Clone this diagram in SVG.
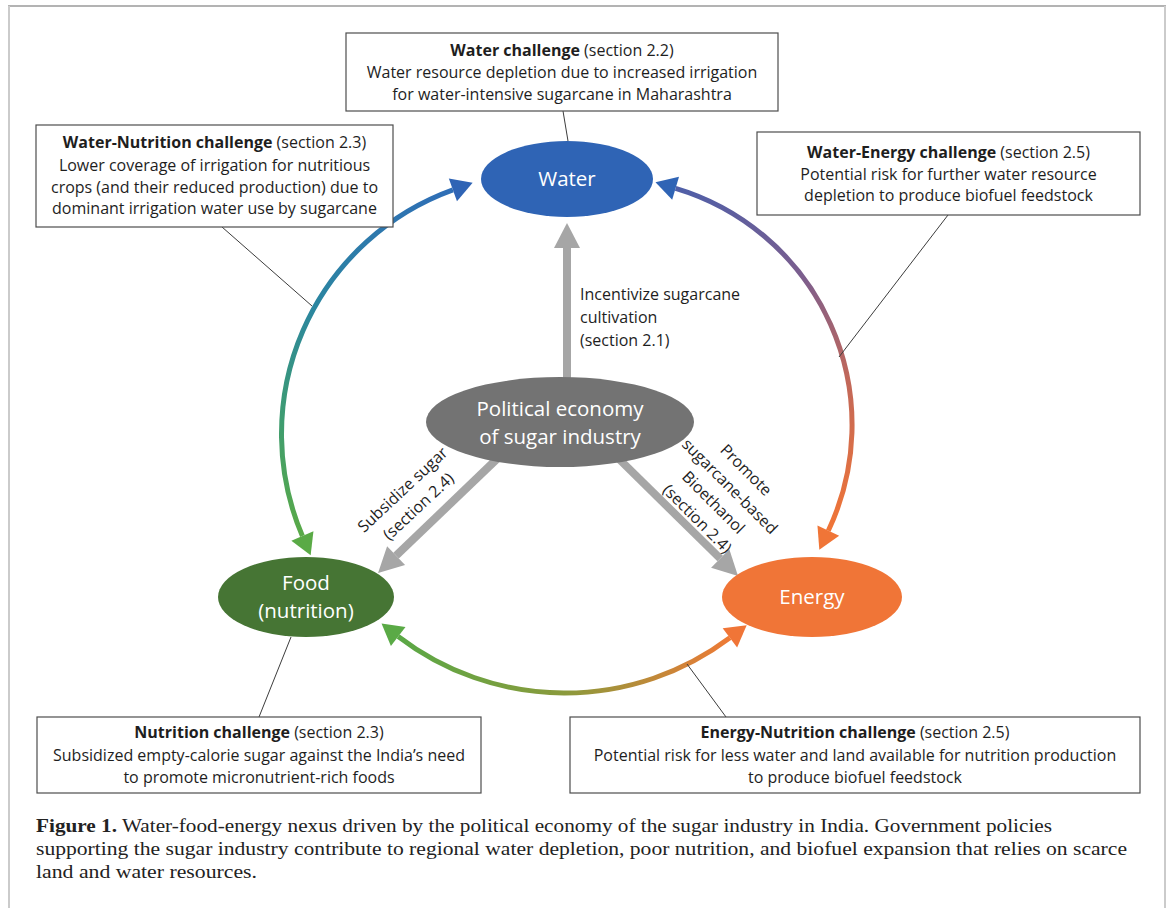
<svg xmlns="http://www.w3.org/2000/svg" width="1168" height="908" viewBox="0 0 1168 908">
  <defs>
    <style>
      .frame-top { stroke: #9a9a9a; stroke-width: 1.5; }
      .frame-side { stroke: #cbcbcb; stroke-width: 2; }
      .box rect { fill: #ffffff; stroke: #4d4d4d; stroke-width: 1.2; }
      .bt { font-family: "Open Sans", Lato, sans-serif; font-size: 16px; fill: #1e1e1e; text-anchor: middle; }
      .b { font-weight: bold; }
      .nl { font-family: "Open Sans", Lato, sans-serif; font-size: 20.5px; fill: #ffffff; text-anchor: middle; }
      .al { font-family: "Open Sans", Lato, sans-serif; font-size: 16px; fill: #1e1e1e; }
      .alc { font-family: "Open Sans", Lato, sans-serif; font-size: 16px; fill: #1e1e1e; text-anchor: middle; }
      .lead { stroke: #3c3c3c; stroke-width: 1; fill: none; }
      .gray { stroke: #a6a6a6; stroke-width: 8; fill: none; marker-end: url(#hGray); }
      .arc { stroke-width: 5; fill: none; }
      .cap { font-family: "Liberation Serif", "Times New Roman", serif; font-size: 19.5px; fill: #222222; }
    </style>
    <marker id="hGray" markerUnits="userSpaceOnUse" markerWidth="30" markerHeight="30" viewBox="-2 -15 30 30" refX="0" refY="0" orient="auto" overflow="visible">
      <path d="M0,-13 L25,0 L0,13 z" fill="#a6a6a6"/>
    </marker>
    <marker id="hBlue" markerUnits="userSpaceOnUse" markerWidth="30" markerHeight="30" viewBox="-2 -15 30 30" refX="0" refY="0" orient="auto-start-reverse" overflow="visible">
      <path d="M0,-12 L21,0 L0,12 z" fill="#2f64b5"/>
    </marker>
    <marker id="hGreen" markerUnits="userSpaceOnUse" markerWidth="30" markerHeight="30" viewBox="-2 -15 30 30" refX="0" refY="0" orient="auto-start-reverse" overflow="visible">
      <path d="M0,-12 L21,0 L0,12 z" fill="#5aaa46"/>
    </marker>
    <marker id="hOrange" markerUnits="userSpaceOnUse" markerWidth="30" markerHeight="30" viewBox="-2 -15 30 30" refX="0" refY="0" orient="auto-start-reverse" overflow="visible">
      <path d="M0,-12 L21,0 L0,12 z" fill="#f07537"/>
    </marker>
    <linearGradient id="gLeft" gradientUnits="userSpaceOnUse" x1="470" y1="185" x2="305" y2="540">
      <stop offset="0" stop-color="#2f6cb8"/>
      <stop offset="0.45" stop-color="#2b86a0"/>
      <stop offset="0.75" stop-color="#3e9c70"/>
      <stop offset="1" stop-color="#5aaa46"/>
    </linearGradient>
    <linearGradient id="gRight" gradientUnits="userSpaceOnUse" x1="675" y1="188" x2="828" y2="530">
      <stop offset="0" stop-color="#4f5fa8"/>
      <stop offset="0.35" stop-color="#7b5e8e"/>
      <stop offset="0.65" stop-color="#c0675a"/>
      <stop offset="1" stop-color="#f07537"/>
    </linearGradient>
    <linearGradient id="gBottom" gradientUnits="userSpaceOnUse" x1="398" y1="636" x2="730" y2="638">
      <stop offset="0" stop-color="#5aa846"/>
      <stop offset="0.5" stop-color="#8a9a3c"/>
      <stop offset="1" stop-color="#ee7a36"/>
    </linearGradient>
  </defs>

  <rect x="0" y="0" width="1168" height="908" fill="#ffffff"/>

  <!-- figure frame -->
  <g id="frame">
    <line class="frame-top" x1="8" y1="6" x2="1166" y2="6"/>
    <line class="frame-side" x1="9" y1="6" x2="9" y2="908"/>
    <line class="frame-side" x1="1165" y1="6" x2="1165" y2="908"/>
  </g>

  <!-- connectors: policy arrows, nexus arcs and callout leaders -->
  <g id="connectors">
    <line class="gray" x1="567" y1="380" x2="567" y2="248"/>
    <line class="gray" x1="500" y1="456" x2="396.1" y2="555.7"/>
    <line class="gray" x1="616" y1="456" x2="720.2" y2="558.5"/>

    <path class="arc" stroke="url(#gLeft)" d="M452.9,189.9 A259.5,259.5 0 0 0 302.4,536.0" marker-start="url(#hBlue)" marker-end="url(#hGreen)"/>
    <path class="arc" stroke="url(#gRight)" d="M675.6,188.3 A247,247 0 0 1 828.3,530.7" marker-start="url(#hBlue)" marker-end="url(#hOrange)"/>
    <path class="arc" stroke="url(#gBottom)" d="M398.2,636.4 A274,274 0 0 0 729.9,637.8" marker-start="url(#hGreen)" marker-end="url(#hOrange)"/>

    <line class="lead" x1="563" y1="111" x2="568" y2="141"/>
    <line class="lead" x1="222" y1="227" x2="312" y2="306"/>
    <line class="lead" x1="948" y1="215" x2="839" y2="357"/>
    <line class="lead" x1="259" y1="717" x2="291" y2="637"/>
    <line class="lead" x1="726" y1="717" x2="687" y2="664"/>
  </g>

  <!-- arrow labels -->
  <g id="label-incentivize">
    <text class="al" x="580" y="300">Incentivize sugarcane</text>
    <text class="al" x="580" y="323">cultivation</text>
    <text class="al" x="580" y="346">(section 2.1)</text>
  </g>
  <g id="label-subsidize" transform="translate(410.5,498) rotate(-43)">
    <text class="alc" x="0" y="-6">Subsidize sugar</text>
    <text class="alc" x="0" y="17">(section 2.4)</text>
  </g>
  <g id="label-promote" transform="translate(722,494) rotate(45)">
    <text class="alc" x="0" y="-28.5">Promote</text>
    <text class="alc" x="0" y="-5.5">sugarcane-based</text>
    <text class="alc" x="0" y="17.5">Bioethanol</text>
    <text class="alc" x="0" y="40.5">(section 2.4)</text>
  </g>

  <!-- nodes -->
  <g id="node-water">
    <ellipse cx="567" cy="179" rx="86" ry="38" fill="#2f64b5"/>
    <text class="nl" x="567" y="186">Water</text>
  </g>
  <g id="node-political-economy">
    <ellipse cx="560" cy="422" rx="134" ry="45" fill="#737373"/>
    <text class="nl" x="560" y="416">Political economy</text>
    <text class="nl" x="560" y="444">of sugar industry</text>
  </g>
  <g id="node-food">
    <ellipse cx="306" cy="597" rx="88" ry="40" fill="#467534"/>
    <text class="nl" x="306" y="590">Food</text>
    <text class="nl" x="306" y="618">(nutrition)</text>
  </g>
  <g id="node-energy">
    <ellipse cx="812" cy="597" rx="90" ry="40" fill="#f07537"/>
    <text class="nl" x="812" y="604">Energy</text>
  </g>

  <!-- challenge callouts -->
  <g id="box-water" class="box">
    <rect x="346" y="33" width="432" height="78"/>
    <text class="bt" x="562" y="56"><tspan class="b">Water challenge</tspan> (section 2.2)</text>
    <text class="bt" x="562" y="78">Water resource depletion due to increased irrigation</text>
    <text class="bt" x="562" y="100">for water-intensive sugarcane in Maharashtra</text>
  </g>
  <g id="box-water-nutrition" class="box">
    <rect x="36" y="125" width="357" height="102"/>
    <text class="bt" x="214.5" y="148"><tspan class="b">Water-Nutrition challenge</tspan> (section 2.3)</text>
    <text class="bt" x="214.5" y="170.5">Lower coverage of irrigation for nutritious</text>
    <text class="bt" x="214.5" y="192.5">crops (and their reduced production) due to</text>
    <text class="bt" x="214.5" y="214">dominant irrigation water use by sugarcane</text>
  </g>
  <g id="box-water-energy" class="box">
    <rect x="757" y="132" width="383" height="83"/>
    <text class="bt" x="948.5" y="158"><tspan class="b">Water-Energy challenge</tspan> (section 2.5)</text>
    <text class="bt" x="948.5" y="179.5">Potential risk for further water resource</text>
    <text class="bt" x="948.5" y="200.5">depletion to produce biofuel feedstock</text>
  </g>
  <g id="box-nutrition" class="box">
    <rect x="37" y="717" width="444" height="76"/>
    <text class="bt" x="259" y="738"><tspan class="b">Nutrition challenge</tspan> (section 2.3)</text>
    <text class="bt" x="259" y="760.5">Subsidized empty-calorie sugar against the India’s need</text>
    <text class="bt" x="259" y="783">to promote micronutrient-rich foods</text>
  </g>
  <g id="box-energy-nutrition" class="box">
    <rect x="570" y="717" width="570" height="76"/>
    <text class="bt" x="855" y="738"><tspan class="b">Energy-Nutrition challenge</tspan> (section 2.5)</text>
    <text class="bt" x="855" y="760.5">Potential risk for less water and land available for nutrition production</text>
    <text class="bt" x="855" y="783">to produce biofuel feedstock</text>
  </g>

  <!-- caption -->
  <g id="caption">
    <text class="cap" x="36" y="832" textLength="1016" lengthAdjust="spacingAndGlyphs"><tspan class="b">Figure 1.</tspan> Water-food-energy nexus driven by the political economy of the sugar industry in India. Government policies</text>
    <text class="cap" x="36" y="855" textLength="1091" lengthAdjust="spacingAndGlyphs">supporting the sugar industry contribute to regional water depletion, poor nutrition, and biofuel expansion that relies on scarce</text>
    <text class="cap" x="36" y="878" textLength="221" lengthAdjust="spacingAndGlyphs">land and water resources.</text>
  </g>
</svg>
